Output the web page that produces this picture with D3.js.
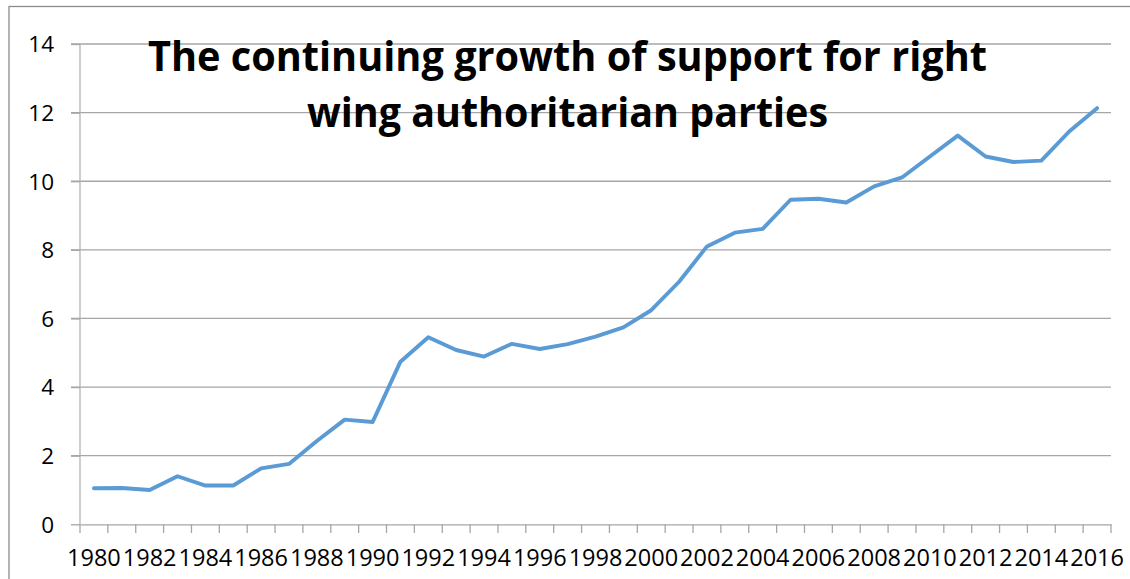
<!DOCTYPE html>
<html><head><meta charset="utf-8">
<script src="https://cdn.jsdelivr.net/npm/d3@7"></script>
<style>body{margin:0;background:#fff;}</style>
</head><body>
<svg id="c" width="1130" height="579"></svg>
<script>
const years = d3.range(1980, 2017).map(String);
const values = [1.05,1.06,1.0,1.40,1.13,1.13,1.63,1.76,2.43,3.05,2.98,4.74,5.45,5.08,4.89,5.26,5.11,5.25,5.47,5.74,6.24,7.07,8.10,8.50,8.61,9.46,9.49,9.38,9.85,10.11,10.72,11.33,10.72,10.56,10.60,11.45,12.13];
const yTicks = [0,2,4,6,8,10,12,14];
const xLabels = years.filter((d,i)=>i%2===0);
const titleLines = ["The continuing growth of support for right","wing authoritarian parties"];

const svg = d3.select("#c");
const font = "'Open Sans', sans-serif";
// outer border
svg.append("rect").attr("x",9).attr("y",6.5).attr("width",1140).attr("height",600)
  .attr("fill","none").attr("stroke","#8c8c8c").attr("stroke-width",1.3);

const x = d3.scaleBand().domain(years).range([80,1111]);
const y = d3.scaleLinear().domain([0,14]).range([524.3,44]);

// gridlines
svg.append("g").selectAll("line").data(yTicks.filter(t=>t>0)).join("line")
  .attr("x1",71).attr("x2",1111).attr("y1",d=>y(d)).attr("y2",d=>y(d))
  .attr("stroke","#a6a6a6").attr("stroke-width",1.3);

// y axis
const ya = svg.append("g").attr("transform","translate(80,0)")
  .call(d3.axisLeft(y).tickValues(yTicks).tickSize(9).tickPadding(17).tickFormat(d3.format("d")));
ya.select(".domain").attr("stroke","#b3b3b3").attr("stroke-width",1.3).attr("d","M0,44V524.3");
ya.selectAll(".tick line").attr("stroke","#a6a6a6").attr("stroke-width",1.3);
ya.selectAll("text").attr("font-family",font).attr("font-size",22.5).attr("fill","#000").attr("dy","0.35em");

// x axis
const xa = svg.append("g").attr("transform","translate(0,524.3)")
  .call(d3.axisBottom(x).tickValues(xLabels).tickSize(0).tickPadding(25));
xa.select(".domain").attr("stroke","#a6a6a6").attr("stroke-width",1.3);
xa.selectAll("text").attr("font-family",font).attr("font-size",23.5).attr("fill","#000");
// tick marks at band boundaries
const bounds = years.map(d=>x(d)).concat([x.range()[1]]);
svg.append("g").selectAll("line").data(bounds).join("line")
  .attr("x1",d=>d).attr("x2",d=>d).attr("y1",524.3).attr("y2",533)
  .attr("stroke","#a6a6a6").attr("stroke-width",1.3);

// line
const line = d3.line().x((d,i)=>x(years[i])+x.bandwidth()/2).y(d=>y(d));
svg.append("path").datum(values).attr("d",line).attr("fill","none")
  .attr("stroke","#5b9bd5").attr("stroke-width",3.9).attr("stroke-linejoin","round").attr("stroke-linecap","round");

// title
const title = svg.append("g");
const tw = [839, 521];
const tb = [71, 127];
titleLines.forEach((t,i)=>{
  title.append("text").attr("x",567.5).attr("y",tb[i]).attr("text-anchor","middle")
    .attr("font-family",font).attr("font-weight","bold").attr("font-size",42)
    .attr("textLength",tw[i]).attr("lengthAdjust","spacingAndGlyphs").attr("fill","#000").text(t);
});
</script>
</body></html>
